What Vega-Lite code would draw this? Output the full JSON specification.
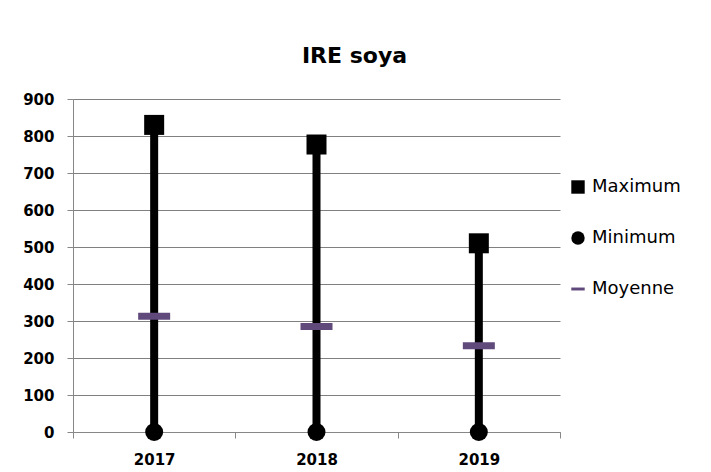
{
  "$schema": "https://vega.github.io/schema/vega-lite/v6.json",
  "width": 487,
  "height": 333,
  "autosize": {"type": "none"},
  "padding": {"left": 73, "top": 99, "right": 151, "bottom": 40},
  "background": "white",
  "title": {
    "text": "IRE soya",
    "font": "DejaVu Sans",
    "fontSize": 22,
    "fontWeight": "bold",
    "color": "#000000",
    "anchor": "middle",
    "dx": 38,
    "offset": 24
  },
  "data": {
    "values": [
      {"year": "2017", "Maximum": 830, "Minimum": 0, "Moyenne": 313},
      {"year": "2018", "Maximum": 777, "Minimum": 0, "Moyenne": 285},
      {"year": "2019", "Maximum": 510, "Minimum": 0, "Moyenne": 233}
    ]
  },
  "encoding": {
    "x": {
      "field": "year",
      "type": "nominal",
      "scale": {"paddingInner": 0, "paddingOuter": 0},
      "axis": {
        "title": null,
        "labelAngle": 0,
        "labelFont": "DejaVu Sans",
        "labelFontSize": 15,
        "labelFontWeight": "bold",
        "labelColor": "#000000",
        "labelPadding": 14,
        "domainColor": "#878787",
        "domainWidth": 1,
        "tickColor": "#878787",
        "tickSize": 6,
        "tickWidth": 1,
        "tickBand": "extent",
        "grid": false
      }
    }
  },
  "layer": [
    {
      "mark": {"type": "rule", "strokeWidth": 8, "color": "#000000"},
      "encoding": {
        "y": {
          "field": "Minimum",
          "type": "quantitative",
          "scale": {"domain": [0, 900], "nice": false},
          "axis": {
            "title": null,
            "values": [0, 100, 200, 300, 400, 500, 600, 700, 800, 900],
            "tickCount": 10,
            "labelOverlap": false,
            "labelFont": "DejaVu Sans",
            "labelFontSize": 15,
            "labelFontWeight": "bold",
            "labelColor": "#000000",
            "labelPadding": 13,
            "domainColor": "#878787",
            "domainWidth": 1,
            "tickColor": "#878787",
            "tickSize": 6,
            "tickWidth": 1,
            "grid": true,
            "gridColor": "#808080",
            "gridWidth": 1,
            "gridOpacity": 1
          }
        },
        "y2": {"field": "Maximum"}
      }
    },
    {
      "mark": {"type": "point", "filled": true, "opacity": 1, "size": 400, "strokeWidth": 0},
      "encoding": {
        "y": {"field": "Maximum", "type": "quantitative"},
        "shape": {
          "datum": "Maximum",
          "type": "nominal",
          "scale": {
            "domain": ["Maximum", "Minimum", "Moyenne"],
            "range": ["square", "circle", "M-1,-0.22H1V0.22H-1Z"]
          },
          "legend": {
            "orient": "none",
            "legendX": 496,
            "legendY": 79,
            "title": null,
            "symbolSize": 180,
            "symbolStrokeWidth": 0,
            "labelFont": "DejaVu Sans",
            "labelFontSize": 18,
            "labelColor": "#000000",
            "labelOffset": 5,
            "rowPadding": 33,
            "padding": 0
          }
        },
        "color": {
          "datum": "Maximum",
          "type": "nominal",
          "scale": {
            "domain": ["Maximum", "Minimum", "Moyenne"],
            "range": ["#000000", "#000000", "#604A7B"]
          },
          "legend": {
            "orient": "none",
            "legendX": 496,
            "legendY": 79,
            "title": null,
            "symbolSize": 180,
            "symbolStrokeWidth": 0,
            "labelFont": "DejaVu Sans",
            "labelFontSize": 18,
            "labelColor": "#000000",
            "labelOffset": 5,
            "rowPadding": 33,
            "padding": 0
          }
        }
      }
    },
    {
      "mark": {"type": "point", "filled": true, "opacity": 1, "size": 324, "strokeWidth": 0},
      "encoding": {
        "y": {"field": "Minimum", "type": "quantitative"},
        "shape": {"datum": "Minimum", "type": "nominal"},
        "color": {"datum": "Minimum", "type": "nominal"}
      }
    },
    {
      "mark": {"type": "point", "filled": true, "opacity": 1, "size": 1024, "strokeWidth": 0},
      "encoding": {
        "y": {"field": "Moyenne", "type": "quantitative"},
        "shape": {"datum": "Moyenne", "type": "nominal"},
        "color": {"datum": "Moyenne", "type": "nominal"}
      }
    }
  ],
  "config": {
    "view": {"stroke": null},
    "font": "DejaVu Sans"
  }
}
